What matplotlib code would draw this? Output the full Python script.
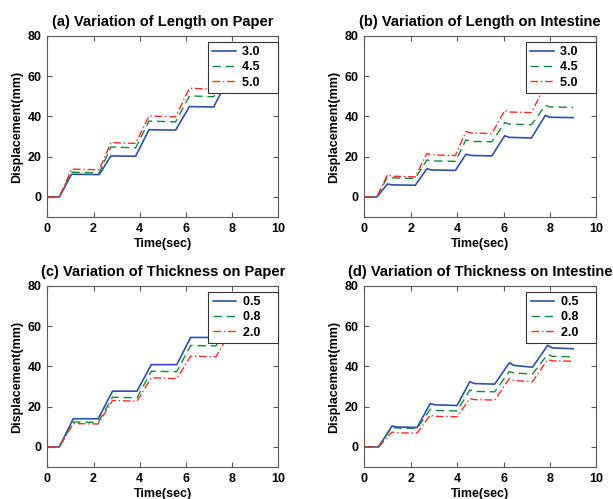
import matplotlib.pyplot as plt

plt.rcParams['font.family'] = ['Liberation Sans', 'DejaVu Sans']
plt.rcParams['font.weight'] = 'bold'

# (a) Variation of Length on Paper
t_a = [0, 0.52, 1.05, 2.25, 2.75, 3.82, 4.4, 5.55, 6.15, 7.2, 7.75, 9.0]
a_30 = [0, 0, 11.3, 11.1, 20.4, 20.2, 33.4, 33.2, 44.9, 44.7, 57, 57]
a_45 = [0, 0, 12.3, 12.0, 24.8, 24.4, 37.7, 37.3, 50.2, 49.8, 62, 62]
a_50 = [0, 0, 13.8, 13.5, 27.0, 26.6, 40.2, 39.8, 54.0, 53.5, 67, 67]

# (b) Variation of Length on Intestine
t_b = [0, 0.55, 1.0, 1.2, 2.2, 2.7, 2.9, 3.93, 4.38, 4.6, 5.5, 6.05, 6.25, 7.2, 7.8, 8.0, 9.0]
b_30 = [0, 0, 6.4, 6.0, 5.8, 14.0, 13.4, 13.2, 21.2, 20.6, 20.4, 30.4, 29.6, 29.3, 40.5, 39.6, 39.4]
b_45 = [0, 0, 9.8, 9.5, 9.2, 18.4, 17.9, 17.7, 28.3, 27.6, 27.4, 36.9, 36.2, 35.9, 45.5, 44.7, 44.5]
b_50 = [0, 0, 11.0, 10.3, 10.0, 21.6, 20.9, 20.6, 32.5, 31.8, 31.5, 43.0, 42.2, 41.9, 55.5, 55.0, 55.0]

# (c) Variation of Thickness on Paper
t_c = [0, 0.52, 1.12, 2.2, 2.82, 3.88, 4.5, 5.6, 6.2, 7.3, 7.85, 9.0]
c_05 = [0, 0, 14.0, 14.0, 27.7, 27.7, 40.9, 40.9, 54.4, 54.4, 67, 67]
c_08 = [0, 0, 12.4, 12.2, 24.7, 24.4, 37.6, 37.4, 50.4, 50.2, 62, 62]
c_20 = [0, 0, 11.6, 11.4, 23.1, 22.7, 34.4, 33.9, 45.1, 44.8, 56, 56]

# (d) Variation of Thickness on Intestine
t_d = [0, 0.62, 1.2, 1.4, 2.28, 2.85, 3.05, 4.0, 4.55, 4.75, 5.62, 6.25, 6.45, 7.25, 7.9, 8.1, 9.0]
d_05 = [0, 0, 10.4, 9.9, 9.7, 21.6, 20.9, 20.6, 32.4, 31.5, 31.2, 41.8, 40.5, 39.6, 50.5, 49.2, 48.8]
d_08 = [0, 0, 9.8, 9.4, 9.2, 18.7, 18.1, 17.9, 28.3, 27.6, 27.4, 37.5, 36.7, 36.3, 46.0, 45.0, 44.8]
d_20 = [0, 0, 7.4, 7.0, 6.9, 15.8, 15.2, 15.0, 24.0, 23.5, 23.3, 33.9, 32.9, 32.5, 43.4, 42.8, 42.6]

labels_len = ['3.0', '4.5', '5.0']
labels_thk = ['0.5', '0.8', '2.0']

COR_AZUL = '#2f4fb0'
COR_VERDE = '#108a3a'
COR_VERM = '#ff2a2a'


def painel(ax, titulo, t, series, labels):
    ax.plot(t, series[0], '-', color=COR_AZUL, lw=1.2, label=labels[0] + '    ')
    ax.plot(t, series[1], '--', color=COR_VERDE, lw=1.0, dashes=(6, 3.5),
            label=labels[1] + '    ')
    ax.plot(t, series[2], '-.', color=COR_VERM, lw=1.0, dashes=(5.5, 2, 1, 2),
            label=labels[2] + '    ')

    ax.set_xlim(0, 10)
    ax.set_ylim(-10, 80)
    ax.set_xticks([0, 2, 4, 6, 8, 10])
    ax.set_yticks([0, 20, 40, 60, 80])
    ax.tick_params(direction='in', top=True, right=True, length=3.5,
                   labelsize=9, color='0.35', pad=4)
    for s in ax.spines.values():
        s.set_color('0.35')
        s.set_linewidth(0.8)

    ax.set_title(titulo, fontsize=10.5, fontweight='bold', pad=7)
    ax.set_xlabel('Time(sec)', fontsize=9, fontweight='bold')
    ax.set_ylabel('Displacement(mm)', fontsize=9, fontweight='bold')
    ax.xaxis.set_label_coords(0.5, -0.116)
    ax.yaxis.set_label_coords(-0.105, 0.5)

    leg = ax.legend(loc='upper right', bbox_to_anchor=(1.0, 0.967), borderaxespad=0,
                    fontsize=9, fancybox=False, framealpha=1, edgecolor='0.2',
                    handlelength=1.85, handletextpad=0.55, labelspacing=0.25,
                    borderpad=0.35)
    leg.get_frame().set_linewidth(0.8)


fig = plt.figure(figsize=(6.13, 4.99), dpi=100)
ax_a = fig.add_axes([0.0772, 0.565, 0.377, 0.363])
ax_b = fig.add_axes([0.594, 0.565, 0.379, 0.363])
ax_c = fig.add_axes([0.0772, 0.064, 0.377, 0.363])
ax_d = fig.add_axes([0.594, 0.064, 0.379, 0.363])

painel(ax_a, '(a) Variation of Length on Paper', t_a, [a_30, a_45, a_50], labels_len)
painel(ax_b, '(b) Variation of Length on Intestine', t_b, [b_30, b_45, b_50], labels_len)
painel(ax_c, '(c) Variation of Thickness on Paper', t_c, [c_05, c_08, c_20], labels_thk)
painel(ax_d, '(d) Variation of Thickness on Intestine', t_d, [d_05, d_08, d_20], labels_thk)

fig.savefig('out.png', dpi=100)
